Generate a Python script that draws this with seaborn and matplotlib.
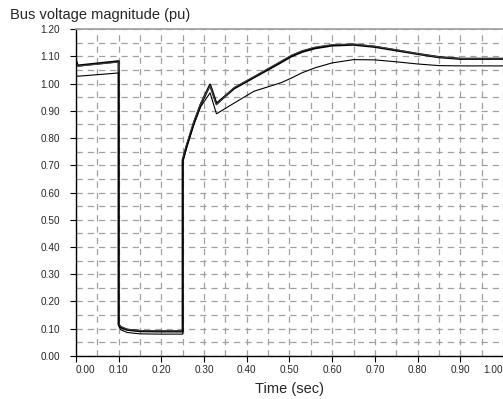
import numpy as np
import pandas as pd
import matplotlib
matplotlib.use("Agg")
import matplotlib.pyplot as plt
import seaborn as sns
from matplotlib.ticker import MultipleLocator

# time (sec) - duplicated points give the vertical fault on/off steps
time = [0.0, 0.004, 0.1, 0.1, 0.105, 0.12, 0.15, 0.2, 0.25, 0.25, 0.26, 0.276, 0.292,
        0.314, 0.329, 0.37, 0.417, 0.48, 0.504, 0.53, 0.56, 0.6, 0.65, 0.7,
        0.75, 0.8, 0.85, 0.9, 1.0]

# bus voltage magnitudes (pu)
bus_a = [1.085, 1.066, 1.082, 0.115, 0.105, 0.096, 0.091, 0.090, 0.090, 0.72, 0.775,
         0.855, 0.923, 0.996, 0.926, 0.982, 1.023, 1.078, 1.100, 1.117, 1.130,
         1.140, 1.143, 1.135, 1.122, 1.109, 1.097, 1.091, 1.091]
bus_b = [1.082, 1.064, 1.079, 0.118, 0.108, 0.098, 0.093, 0.092, 0.092, 0.72, 0.778,
         0.858, 0.926, 0.993, 0.922, 0.985, 1.026, 1.082, 1.104, 1.121, 1.134,
         1.143, 1.145, 1.137, 1.124, 1.110, 1.098, 1.092, 1.091]
bus_c = [1.030, 1.027, 1.039, 0.110, 0.096, 0.086, 0.081, 0.080, 0.080, 0.71, 0.77,
         0.85, 0.915, 0.966, 0.889, 0.928, 0.972, 1.003, 1.020, 1.040, 1.058,
         1.076, 1.088, 1.087, 1.080, 1.072, 1.066, 1.065, 1.065]

x_ticks = [0.0, 0.1, 0.2, 0.3, 0.4, 0.5, 0.6, 0.7, 0.8, 0.9, 1.0]
y_ticks = [0.0, 0.1, 0.2, 0.3, 0.4, 0.5, 0.6, 0.7, 0.8, 0.9, 1.0, 1.1, 1.2]

df = pd.DataFrame({"time": time, "A": bus_a, "B": bus_b, "C": bus_c})

sns.set_theme(style="white")
plt.rcParams['font.family'] = ['Liberation Sans', 'DejaVu Sans']

fig = plt.figure(figsize=(5.03, 3.99), dpi=100)
ax = fig.add_axes([0.151, 0.108, 0.849, 0.819])

# dashed grid every 0.05
ax.set_xticks(x_ticks, [f"{v:.2f}" for v in x_ticks])
ax.set_yticks(y_ticks, [f"{v:.2f}" for v in y_ticks])
ax.xaxis.set_minor_locator(MultipleLocator(0.05))
ax.yaxis.set_minor_locator(MultipleLocator(0.05))
ax.grid(which="both", color="#a0a0a0", linestyle=(0, (5, 4)), linewidth=0.9)
ax.set_axisbelow(True)

sns.lineplot(data=df, x="time", y="A", ax=ax, estimator=None, sort=False,
             color="black", linewidth=1.6)
sns.lineplot(data=df, x="time", y="B", ax=ax, estimator=None, sort=False,
             color="#404040", linewidth=0.8)
sns.lineplot(data=df, x="time", y="C", ax=ax, estimator=None, sort=False,
             color="black", linewidth=0.8)

ax.set_xlim(0, 1.0)
ax.set_ylim(0, 1.2)
ax.tick_params(which="major", direction="out", length=4, width=0.8, color="black",
               labelsize=7.2, bottom=True, left=True)
ax.tick_params(axis="x", pad=2.5)
ax.tick_params(axis="y", pad=7.5)
ax.tick_params(which="minor", length=0)

# first and last x labels kept inside the figure
xlabels = ax.get_xticklabels()
xlabels[0].set_ha("left")
xlabels[-1].set_ha("right")

for s in ["left", "bottom"]:
    ax.spines[s].set_color("black")
    ax.spines[s].set_linewidth(1.0)
ax.spines["top"].set_color("#a0a0a0")
ax.spines["right"].set_visible(False)

ax.set_xlabel("Time (sec)", fontsize=10.5, labelpad=5)
ax.set_ylabel("")
fig.text(0.02, 0.952, "Bus voltage magnitude (pu)", fontsize=10.5, ha="left")

fig.savefig("out.png", dpi=100)
